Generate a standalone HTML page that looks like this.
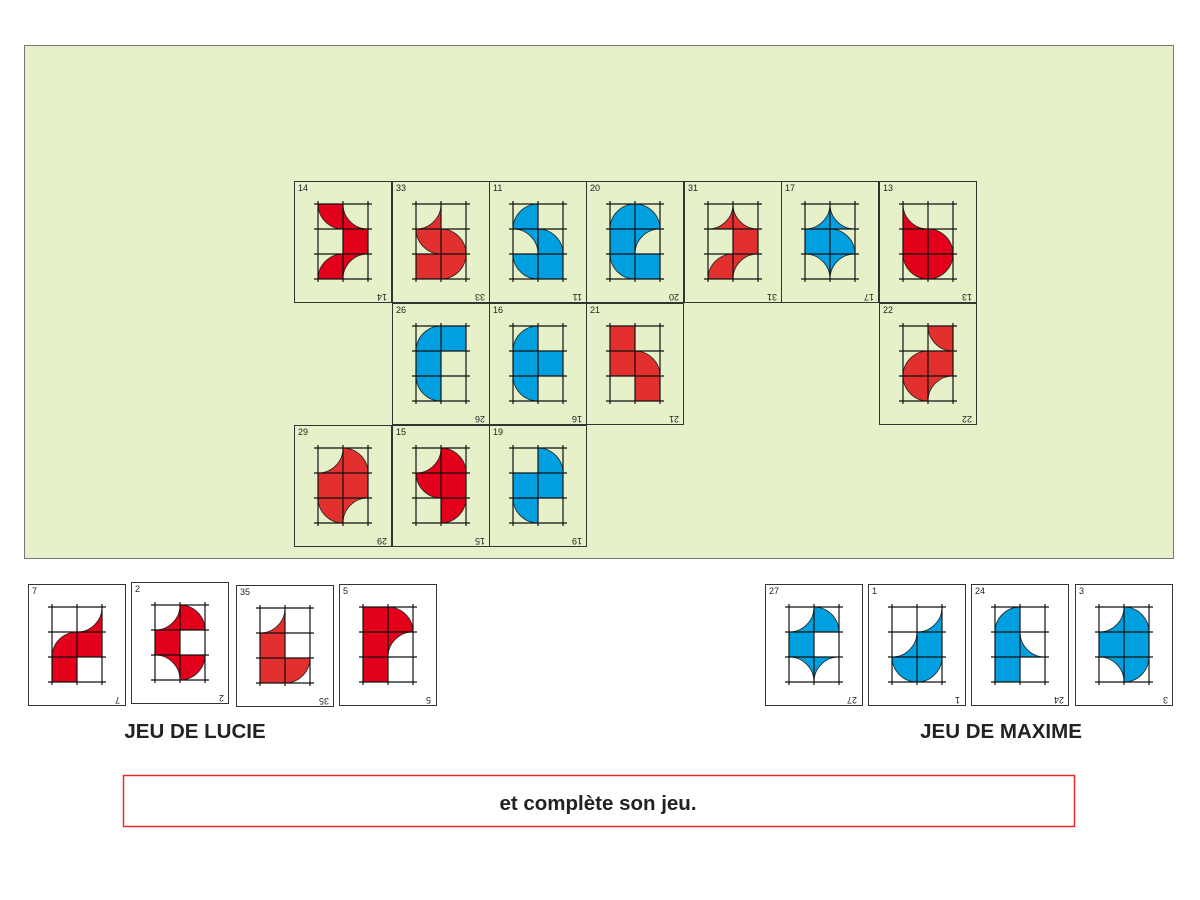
<!DOCTYPE html>
<html><head><meta charset="utf-8"><style>
body{margin:0;background:#fff;width:1200px;height:900px;overflow:hidden;font-family:"Liberation Sans",sans-serif}
svg{position:absolute;left:0;top:0}
.n{font-size:9px;fill:#222;font-family:"Liberation Sans",sans-serif}
</style></head><body>
<svg width="1200" height="900" id="s">
<rect x="24.5" y="45.5" width="1149" height="513" fill="#e6f1c9" stroke="#777" stroke-width="1"/>
<g id="cards"></g>
<text x="195" y="738" text-anchor="middle" font-size="20.5" font-weight="bold" fill="#222" font-family="Liberation Sans">JEU DE LUCIE</text>
<text x="1001" y="738" text-anchor="middle" font-size="20.5" font-weight="bold" fill="#222" font-family="Liberation Sans">JEU DE MAXIME</text>
<rect x="123.5" y="775.5" width="951" height="51" fill="#fff" stroke="#e32b2b" stroke-width="1.5"/>
<text x="598" y="810" text-anchor="middle" font-size="20.5" font-weight="bold" fill="#222" font-family="Liberation Sans">et complète son jeu.</text>
<g id="nums">
<text class="n" x="298" y="191">14</text><text class="n" transform="translate(387,294) rotate(180)">14</text>
<text class="n" x="396" y="191">33</text><text class="n" transform="translate(485,294) rotate(180)">33</text>
<text class="n" x="493" y="191">11</text><text class="n" transform="translate(582,294) rotate(180)">11</text>
<text class="n" x="590" y="191">20</text><text class="n" transform="translate(679,294) rotate(180)">20</text>
<text class="n" x="688" y="191">31</text><text class="n" transform="translate(777,294) rotate(180)">31</text>
<text class="n" x="785" y="191">17</text><text class="n" transform="translate(874,294) rotate(180)">17</text>
<text class="n" x="883" y="191">13</text><text class="n" transform="translate(972,294) rotate(180)">13</text>
<text class="n" x="396" y="313">26</text><text class="n" transform="translate(485,416) rotate(180)">26</text>
<text class="n" x="493" y="313">16</text><text class="n" transform="translate(582,416) rotate(180)">16</text>
<text class="n" x="590" y="313">21</text><text class="n" transform="translate(679,416) rotate(180)">21</text>
<text class="n" x="883" y="313">22</text><text class="n" transform="translate(972,416) rotate(180)">22</text>
<text class="n" x="298" y="435">29</text><text class="n" transform="translate(387,538) rotate(180)">29</text>
<text class="n" x="396" y="435">15</text><text class="n" transform="translate(485,538) rotate(180)">15</text>
<text class="n" x="493" y="435">19</text><text class="n" transform="translate(582,538) rotate(180)">19</text>
<text class="n" x="32" y="594">7</text><text class="n" transform="translate(120,697) rotate(180)">7</text>
<text class="n" x="135" y="592">2</text><text class="n" transform="translate(224,695) rotate(180)">2</text>
<text class="n" x="240" y="595">35</text><text class="n" transform="translate(329,698) rotate(180)">35</text>
<text class="n" x="343" y="594">5</text><text class="n" transform="translate(431,697) rotate(180)">5</text>
<text class="n" x="769" y="594">27</text><text class="n" transform="translate(857,697) rotate(180)">27</text>
<text class="n" x="872" y="594">1</text><text class="n" transform="translate(960,697) rotate(180)">1</text>
<text class="n" x="975" y="594">24</text><text class="n" transform="translate(1064,697) rotate(180)">24</text>
<text class="n" x="1079" y="594">3</text><text class="n" transform="translate(1168,697) rotate(180)">3</text>
</g>
</svg>
<script>
var R="#e3001b",R2="#e2302e",B="#009fe0";
var cards=[
[294,181,R,"DTR CTR . F DBR CBR"],
[392,181,R2,"CTL . DTR DBL F DTL"],
[489,181,B,"DBR . CBL DBL DTR F"],
[586,181,B,"DBR DBL F CBR DTR F"],
[684,181,R2,"CTL CTR . F DBR CBR"],
[781,181,B,"CTL CTR F DBL CBL CBR"],
[879,181,R,"CTR . F DBL DTR DTL"],
[392,303,B,"DBR F F . DTR ."],
[489,303,B,"DBR . F F DTR ."],
[586,303,R2,"F . F DBL . F"],
[879,303,R2,". DTR DBR F DTR CBR"],
[294,425,R2,"CTL DBL F F DTR CBR"],
[392,425,R,"CTL DBL DTR F . DTL"],
[489,425,B,". DBL F F DTR ."],
[28,584,R,". CTL DBR F F .",1],
[131,582,R,"CTL DBL F . CBL DTL",1],
[236,585,R2,"CTL . F . F DTL",1],
[339,584,R,"F DBL F CBR F .",1],
[765,584,B,"CTL DBL F . CBL CBR",1],
[868,584,B,". CTL CTL F DTR DTL",1],
[971,584,B,"DBR . F CTR F .",1],
[1075,584,B,"CTL DBL F F CBL DTL",1]];
var s=25,h="";
cards.forEach(function(c){
 var x=c[0],y=c[1],w=97,ht=121;
 h+='<rect x="'+(x+.5)+'" y="'+(y+.5)+'" width="'+w+'" height="'+ht+'" fill="'+(c[4]?'#fff':'none')+'" stroke="#333" stroke-width="1"/>';
 var gx=x+24,gy=y+23,cells=c[3].split(" ");
 cells.forEach(function(t,i){
  var col=i%2,row=Math.floor(i/2),X=gx+col*s,Y=gy+row*s,p="";
  if(t=="F")p="M"+X+" "+Y+"h"+s+"v"+s+"h"+(-s)+"Z";
  else if(t!="."){
   var k=t[0],cr=t.substr(1);
   var top=cr[0]=="T",left=cr[1]=="L";
   var cx=left?X:X+s,cy=top?Y:Y+s,dx=left?1:-1,dy=top?1:-1;
   var sw=(dx*dy>0)?1:0;
   if(k=="D")p="M"+cx+" "+cy+"L"+(cx+dx*s)+" "+cy+"A"+s+" "+s+" 0 0 "+sw+" "+cx+" "+(cy+dy*s)+"Z";
   else p="M"+(cx+dx*s)+" "+cy+"L"+(cx+dx*s)+" "+(cy+dy*s)+"L"+cx+" "+(cy+dy*s)+"A"+s+" "+s+" 0 0 "+(1-sw)+" "+(cx+dx*s)+" "+cy+"Z";
  }
  if(p)h+='<path d="'+p+'" fill="'+c[2]+'" stroke="#222" stroke-width="0.8"/>';
 });
 for(var i=0;i<3;i++)h+='<line x1="'+(gx+i*s)+'" y1="'+(gy-3)+'" x2="'+(gx+i*s)+'" y2="'+(gy+3*s+3)+'" stroke="#111" stroke-width="1.2"/>';
 for(var j=0;j<4;j++)h+='<line x1="'+(gx-4)+'" y1="'+(gy+j*s)+'" x2="'+(gx+2*s+4)+'" y2="'+(gy+j*s)+'" stroke="#111" stroke-width="1.2"/>';
});
document.getElementById("cards").innerHTML=h;
</script>
</body></html>
